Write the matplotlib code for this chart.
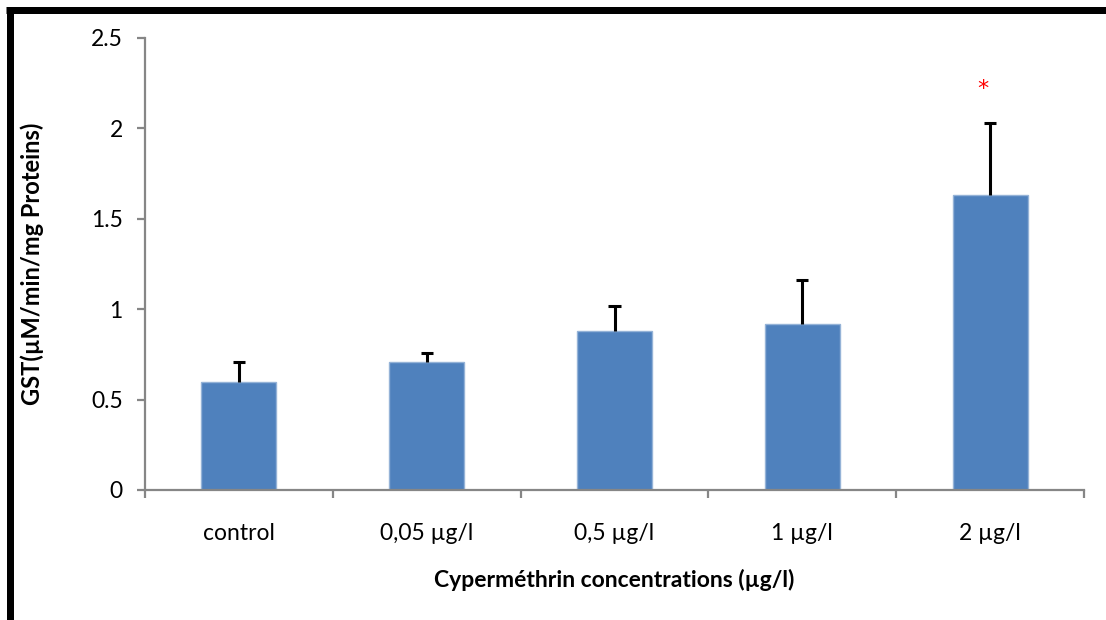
import matplotlib
matplotlib.use("Agg")
import matplotlib.pyplot as plt
from matplotlib.lines import Line2D
import numpy as np

# GST activity per cypermethrin concentration (mean and upper error)
categories = ["control", "0,05 µg/l", "0,5 µg/l", "1 µg/l", "2 µg/l"]
gst_mean = [0.60, 0.71, 0.88, 0.92, 1.63]
gst_err = [0.11, 0.05, 0.14, 0.24, 0.40]
significant = [False, False, False, False, True]
y_ticks = [0, 0.5, 1, 1.5, 2, 2.5]
y_tick_labels = ["0", "0.5", "1", "1.5", "2", "2.5"]

plt.rcParams["font.family"] = ["Lato", "DejaVu Sans"]

fig = plt.figure(figsize=(11.06, 6.2), dpi=100)
ax = fig.add_axes([145 / 1106, 1 - 490 / 620, (1084 - 145) / 1106, (490 - 38) / 620])

x = np.arange(len(categories))
ax.bar(x, gst_mean, width=0.40, color="#4F81BD", edgecolor="#95B3D7", linewidth=1.0, zorder=2)

# upper-only error bars with a cap at the top
tops = np.array(gst_mean) + np.array(gst_err)
ax.vlines(x, gst_mean, tops, color="black", linewidth=2.2, zorder=3)
ax.hlines(tops, x - 0.033, x + 0.033, color="black", linewidth=2.2, zorder=3)

# significance marker above the error bar
for xi, t, s in zip(x, tops, significant):
    if s:
        ax.text(xi - 0.04, t + 0.155, "*", color="red", fontsize=16, ha="center", va="baseline",
                family="DejaVu Sans")

ax.set_xlim(-0.5, len(categories) - 0.5)
ax.set_ylim(0, 2.5)
ax.set_yticks(y_ticks)
ax.set_yticklabels(y_tick_labels)
ax.set_xticks(x)
ax.set_xticklabels(categories)
ax.set_xticks(np.arange(-0.5, len(categories)), minor=True)

spine_color = "#868686"
for side in ["top", "right"]:
    ax.spines[side].set_visible(False)
for side in ["left", "bottom"]:
    ax.spines[side].set_color(spine_color)
    ax.spines[side].set_linewidth(1.6)

ax.tick_params(axis="y", which="major", length=6, width=1.6, color=spine_color,
               labelsize=16.5, labelcolor="black", pad=10)
ax.tick_params(axis="x", which="major", length=0, labelsize=16.5, labelcolor="black", pad=24)
ax.tick_params(axis="x", which="minor", length=6, width=1.6, color=spine_color)

ax.set_ylabel("GST(µM/min/mg Proteins)", fontsize=17, fontweight="bold", labelpad=34)
ax.set_xlabel("Cyperméthrin concentrations (µg/l)", fontsize=16.5, fontweight="bold", labelpad=18)

# frame around the figure: top and left edges
lw = 7 * 72 / 100
fig.add_artist(Line2D([6 / 1106, 1.0], [1 - 10 / 620, 1 - 10 / 620], color="black",
                      linewidth=lw, transform=fig.transFigure, solid_capstyle="butt"))
fig.add_artist(Line2D([9.5 / 1106, 9.5 / 1106], [1 - 7 / 620, 0.0], color="black",
                      linewidth=lw, transform=fig.transFigure, solid_capstyle="butt"))

fig.savefig("out.png", dpi=100)
